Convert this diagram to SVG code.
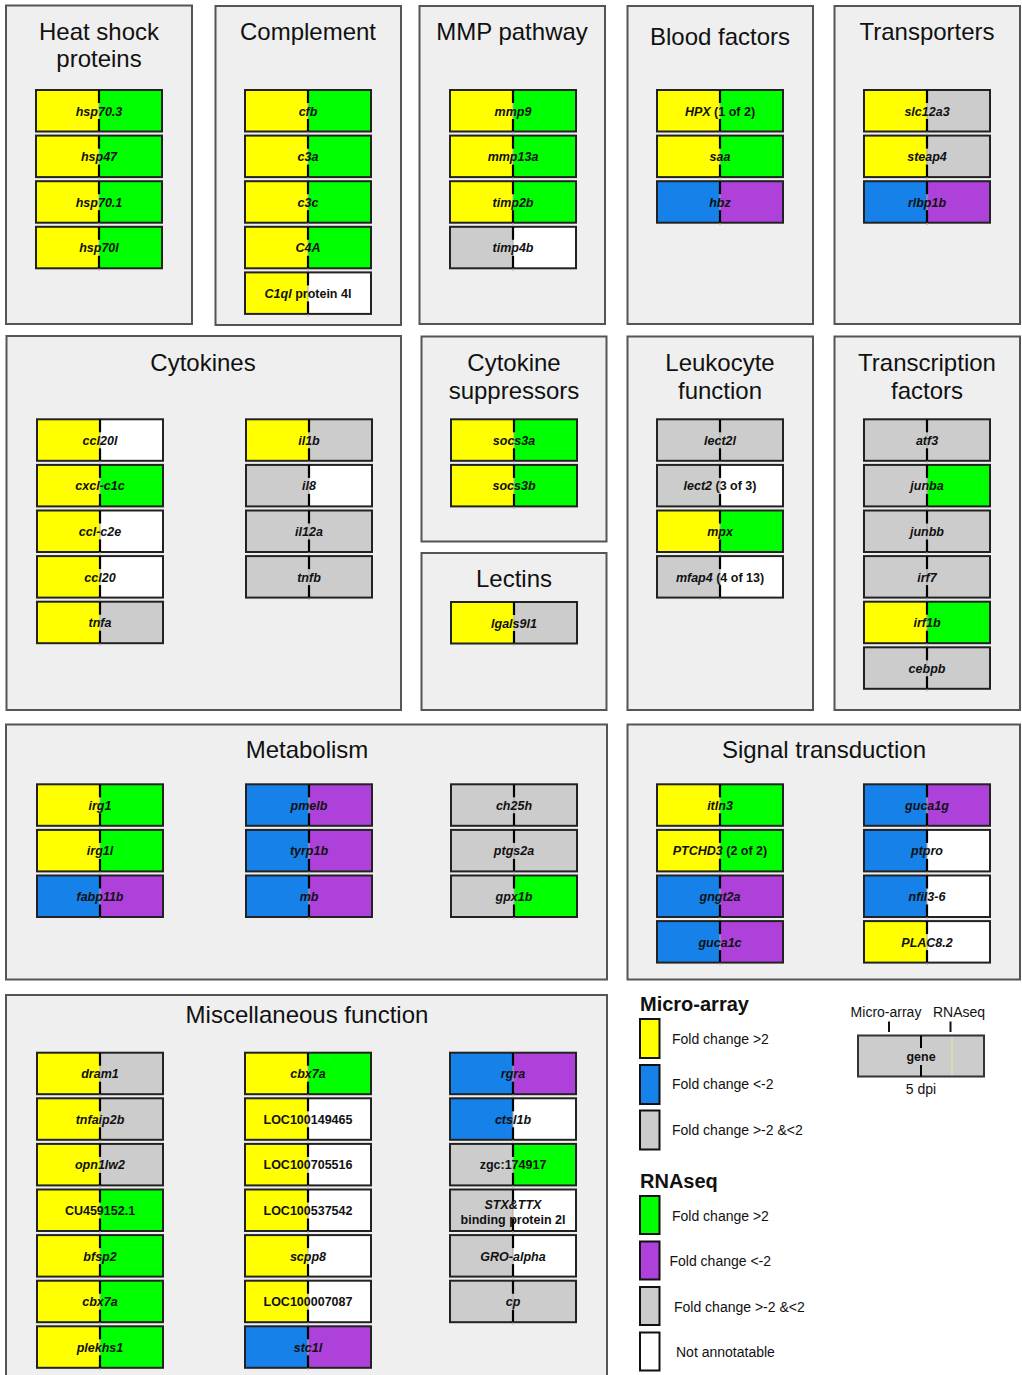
<svg xmlns="http://www.w3.org/2000/svg" width="1022" height="1375" viewBox="0 0 1022 1375">
<style>
.panel{fill:#efefef;stroke:#555;stroke-width:2}
.title{font-family:"Liberation Sans",Arial,sans-serif;font-size:24px;fill:#111;text-anchor:middle}
.gt{font-family:"Liberation Sans",Arial,sans-serif;font-size:12.5px;font-weight:bold;font-style:italic;fill:#111;text-anchor:middle}
.up{font-style:normal}
.lh{font-family:"Liberation Sans",Arial,sans-serif;font-size:20px;font-weight:bold;fill:#111}
.lt{font-family:"Liberation Sans",Arial,sans-serif;font-size:14px;fill:#111}
.sw{stroke:#111;stroke-width:2}
.y{fill:#ffff00}.g{fill:#00ff00}.b{fill:#1581e9}.p{fill:#ae41da}.s{fill:#cccccc}.w{fill:#ffffff}
</style>
<defs>
<rect id="Ly" width="63" height="41.5" class="y"/>
<rect id="Lb" width="63" height="41.5" class="b"/>
<rect id="Ls" width="63" height="41.5" class="s"/>
<rect id="Rg" x="63" width="63" height="41.5" class="g"/>
<rect id="Rp" x="63" width="63" height="41.5" class="p"/>
<rect id="Rs" x="63" width="63" height="41.5" class="s"/>
<rect id="Rw" x="63" width="63" height="41.5" class="w"/>
<g id="fr">
<rect width="126" height="41.5" fill="none" stroke="#222" stroke-width="2"/>
<line x1="63" y1="0" x2="63" y2="44" stroke="#aaa" stroke-width="1"/>
<line x1="63" y1="0" x2="63" y2="13" stroke="#000" stroke-width="2.2"/>
<line x1="63" y1="29" x2="63" y2="41.5" stroke="#000" stroke-width="2.2"/>
</g>
</defs>

<g id="connectors"/>

<!-- Heat shock proteins -->
<g id="panel-heat-shock">
<rect class="panel" x="6" y="5.5" width="186" height="318.5"/>
<text class="title" x="99" y="40">Heat shock</text>
<text class="title" x="99" y="67">proteins</text>
</g>
<g id="hsp70-3" transform="translate(36,90)"><use href="#Ly"/><use href="#Rg"/><use href="#fr"/><text class="gt" x="63" y="25.5">hsp70.3</text></g>
<g id="hsp47" transform="translate(36,135.6)"><use href="#Ly"/><use href="#Rg"/><use href="#fr"/><text class="gt" x="63" y="25.5">hsp47</text></g>
<g id="hsp70-1" transform="translate(36,181.2)"><use href="#Ly"/><use href="#Rg"/><use href="#fr"/><text class="gt" x="63" y="25.5">hsp70.1</text></g>
<g id="hsp70l" transform="translate(36,226.8)"><use href="#Ly"/><use href="#Rg"/><use href="#fr"/><text class="gt" x="63" y="25.5">hsp70l</text></g>

<!-- Complement -->
<g id="panel-complement">
<rect class="panel" x="215.5" y="6" width="185.5" height="319"/>
<text class="title" x="308" y="40">Complement</text>
</g>
<g id="cfb" transform="translate(245,90)"><use href="#Ly"/><use href="#Rg"/><use href="#fr"/><text class="gt" x="63" y="25.5">cfb</text></g>
<g id="c3a" transform="translate(245,135.6)"><use href="#Ly"/><use href="#Rg"/><use href="#fr"/><text class="gt" x="63" y="25.5">c3a</text></g>
<g id="c3c" transform="translate(245,181.2)"><use href="#Ly"/><use href="#Rg"/><use href="#fr"/><text class="gt" x="63" y="25.5">c3c</text></g>
<g id="C4A" transform="translate(245,226.8)"><use href="#Ly"/><use href="#Rg"/><use href="#fr"/><text class="gt" x="63" y="25.5">C4A</text></g>
<g id="C1ql" transform="translate(245,272.4)"><use href="#Ly"/><use href="#Rw"/><use href="#fr"/><text class="gt" x="63" y="25.5">C1ql<tspan class="up"> protein 4l</tspan></text></g>

<!-- MMP pathway -->
<g id="panel-mmp">
<rect class="panel" x="419.5" y="6" width="185.5" height="318"/>
<text class="title" x="512" y="40">MMP pathway</text>
</g>
<g id="mmp9" transform="translate(450,90)"><use href="#Ly"/><use href="#Rg"/><use href="#fr"/><text class="gt" x="63" y="25.5">mmp9</text></g>
<g id="mmp13a" transform="translate(450,135.6)"><use href="#Ly"/><use href="#Rg"/><use href="#fr"/><text class="gt" x="63" y="25.5">mmp13a</text></g>
<g id="timp2b" transform="translate(450,181.2)"><use href="#Ly"/><use href="#Rg"/><use href="#fr"/><text class="gt" x="63" y="25.5">timp2b</text></g>
<g id="timp4b" transform="translate(450,226.8)"><use href="#Ls"/><use href="#Rw"/><use href="#fr"/><text class="gt" x="63" y="25.5">timp4b</text></g>

<!-- Blood factors -->
<g id="panel-blood">
<rect class="panel" x="627.5" y="6" width="185.5" height="318"/>
<text class="title" x="720" y="45">Blood factors</text>
</g>
<g id="HPX" transform="translate(657,90)"><use href="#Ly"/><use href="#Rg"/><use href="#fr"/><text class="gt" x="63" y="25.5">HPX<tspan class="up"> (1 of 2)</tspan></text></g>
<g id="saa" transform="translate(657,135.6)"><use href="#Ly"/><use href="#Rg"/><use href="#fr"/><text class="gt" x="63" y="25.5">saa</text></g>
<g id="hbz" transform="translate(657,181.2)"><use href="#Lb"/><use href="#Rp"/><use href="#fr"/><text class="gt" x="63" y="25.5">hbz</text></g>

<!-- Transporters -->
<g id="panel-transporters">
<rect class="panel" x="834.5" y="6" width="185.5" height="318"/>
<text class="title" x="927" y="40">Transporters</text>
</g>
<g id="slc12a3" transform="translate(864,90)"><use href="#Ly"/><use href="#Rs"/><use href="#fr"/><text class="gt" x="63" y="25.5">slc12a3</text></g>
<g id="steap4" transform="translate(864,135.6)"><use href="#Ly"/><use href="#Rs"/><use href="#fr"/><text class="gt" x="63" y="25.5">steap4</text></g>
<g id="rlbp1b" transform="translate(864,181.2)"><use href="#Lb"/><use href="#Rp"/><use href="#fr"/><text class="gt" x="63" y="25.5">rlbp1b</text></g>

<!-- Cytokines -->
<g id="panel-cytokines">
<rect class="panel" x="6.5" y="336" width="394.5" height="374"/>
<text class="title" x="203" y="371">Cytokines</text>
</g>
<g id="ccl20l" transform="translate(37,419.3)"><use href="#Ly"/><use href="#Rw"/><use href="#fr"/><text class="gt" x="63" y="25.5">ccl20l</text></g>
<g id="cxcl-c1c" transform="translate(37,464.9)"><use href="#Ly"/><use href="#Rg"/><use href="#fr"/><text class="gt" x="63" y="25.5">cxcl-c1c</text></g>
<g id="ccl-c2e" transform="translate(37,510.5)"><use href="#Ly"/><use href="#Rw"/><use href="#fr"/><text class="gt" x="63" y="25.5">ccl-c2e</text></g>
<g id="ccl20" transform="translate(37,556.1)"><use href="#Ly"/><use href="#Rw"/><use href="#fr"/><text class="gt" x="63" y="25.5">ccl20</text></g>
<g id="tnfa" transform="translate(37,601.7)"><use href="#Ly"/><use href="#Rs"/><use href="#fr"/><text class="gt" x="63" y="25.5">tnfa</text></g>
<g id="il1b" transform="translate(246,419.3)"><use href="#Ly"/><use href="#Rs"/><use href="#fr"/><text class="gt" x="63" y="25.5">il1b</text></g>
<g id="il8" transform="translate(246,464.9)"><use href="#Ls"/><use href="#Rw"/><use href="#fr"/><text class="gt" x="63" y="25.5">il8</text></g>
<g id="il12a" transform="translate(246,510.5)"><use href="#Ls"/><use href="#Rs"/><use href="#fr"/><text class="gt" x="63" y="25.5">il12a</text></g>
<g id="tnfb" transform="translate(246,556.1)"><use href="#Ls"/><use href="#Rs"/><use href="#fr"/><text class="gt" x="63" y="25.5">tnfb</text></g>

<!-- Cytokine suppressors -->
<g id="panel-suppressors">
<rect class="panel" x="421.5" y="336.5" width="185" height="205"/>
<text class="title" x="514" y="371">Cytokine</text>
<text class="title" x="514" y="399">suppressors</text>
</g>
<g id="socs3a" transform="translate(451,419.3)"><use href="#Ly"/><use href="#Rg"/><use href="#fr"/><text class="gt" x="63" y="25.5">socs3a</text></g>
<g id="socs3b" transform="translate(451,464.9)"><use href="#Ly"/><use href="#Rg"/><use href="#fr"/><text class="gt" x="63" y="25.5">socs3b</text></g>

<!-- Lectins -->
<g id="panel-lectins">
<rect class="panel" x="421.5" y="553" width="185" height="157"/>
<text class="title" x="514" y="587">Lectins</text>
</g>
<g id="lgals9l1" transform="translate(451,602)"><use href="#Ly"/><use href="#Rs"/><use href="#fr"/><text class="gt" x="63" y="25.5">lgals9l1</text></g>

<!-- Leukocyte function -->
<g id="panel-leukocyte">
<rect class="panel" x="627.5" y="336.5" width="185.5" height="373.5"/>
<text class="title" x="720" y="371">Leukocyte</text>
<text class="title" x="720" y="399">function</text>
</g>
<g id="lect2l" transform="translate(657,419.3)"><use href="#Ls"/><use href="#Rs"/><use href="#fr"/><text class="gt" x="63" y="25.5">lect2l</text></g>
<g id="lect2" transform="translate(657,464.9)"><use href="#Ls"/><use href="#Rw"/><use href="#fr"/><text class="gt" x="63" y="25.5">lect2<tspan class="up"> (3 of 3)</tspan></text></g>
<g id="mpx" transform="translate(657,510.5)"><use href="#Ly"/><use href="#Rg"/><use href="#fr"/><text class="gt" x="63" y="25.5">mpx</text></g>
<g id="mfap4" transform="translate(657,556.1)"><use href="#Ls"/><use href="#Rw"/><use href="#fr"/><text class="gt" x="63" y="25.5">mfap4<tspan class="up"> (4 of 13)</tspan></text></g>

<!-- Transcription factors -->
<g id="panel-tf">
<rect class="panel" x="834.5" y="336.5" width="185.5" height="373.5"/>
<text class="title" x="927" y="371">Transcription</text>
<text class="title" x="927" y="399">factors</text>
</g>
<g id="atf3" transform="translate(864,419.3)"><use href="#Ls"/><use href="#Rs"/><use href="#fr"/><text class="gt" x="63" y="25.5">atf3</text></g>
<g id="junba" transform="translate(864,464.9)"><use href="#Ls"/><use href="#Rg"/><use href="#fr"/><text class="gt" x="63" y="25.5">junba</text></g>
<g id="junbb" transform="translate(864,510.5)"><use href="#Ls"/><use href="#Rs"/><use href="#fr"/><text class="gt" x="63" y="25.5">junbb</text></g>
<g id="irf7" transform="translate(864,556.1)"><use href="#Ls"/><use href="#Rs"/><use href="#fr"/><text class="gt" x="63" y="25.5">irf7</text></g>
<g id="irf1b" transform="translate(864,601.7)"><use href="#Ly"/><use href="#Rg"/><use href="#fr"/><text class="gt" x="63" y="25.5">irf1b</text></g>
<g id="cebpb" transform="translate(864,647.3)"><use href="#Ls"/><use href="#Rs"/><use href="#fr"/><text class="gt" x="63" y="25.5">cebpb</text></g>

<!-- Metabolism -->
<g id="panel-metabolism">
<rect class="panel" x="6" y="724.5" width="601" height="255"/>
<text class="title" x="307" y="758">Metabolism</text>
</g>
<g id="irg1" transform="translate(37,784.3)"><use href="#Ly"/><use href="#Rg"/><use href="#fr"/><text class="gt" x="63" y="25.5">irg1</text></g>
<g id="irg1l" transform="translate(37,829.9)"><use href="#Ly"/><use href="#Rg"/><use href="#fr"/><text class="gt" x="63" y="25.5">irg1l</text></g>
<g id="fabp11b" transform="translate(37,875.5)"><use href="#Lb"/><use href="#Rp"/><use href="#fr"/><text class="gt" x="63" y="25.5">fabp11b</text></g>
<g id="pmelb" transform="translate(246,784.3)"><use href="#Lb"/><use href="#Rp"/><use href="#fr"/><text class="gt" x="63" y="25.5">pmelb</text></g>
<g id="tyrp1b" transform="translate(246,829.9)"><use href="#Lb"/><use href="#Rp"/><use href="#fr"/><text class="gt" x="63" y="25.5">tyrp1b</text></g>
<g id="mb" transform="translate(246,875.5)"><use href="#Lb"/><use href="#Rp"/><use href="#fr"/><text class="gt" x="63" y="25.5">mb</text></g>
<g id="ch25h" transform="translate(451,784.3)"><use href="#Ls"/><use href="#Rs"/><use href="#fr"/><text class="gt" x="63" y="25.5">ch25h</text></g>
<g id="ptgs2a" transform="translate(451,829.9)"><use href="#Ls"/><use href="#Rs"/><use href="#fr"/><text class="gt" x="63" y="25.5">ptgs2a</text></g>
<g id="gpx1b" transform="translate(451,875.5)"><use href="#Ls"/><use href="#Rg"/><use href="#fr"/><text class="gt" x="63" y="25.5">gpx1b</text></g>

<!-- Signal transduction -->
<g id="panel-signal">
<rect class="panel" x="627.5" y="724.5" width="392.5" height="255"/>
<text class="title" x="824" y="758">Signal transduction</text>
</g>
<g id="itln3" transform="translate(657,784.3)"><use href="#Ly"/><use href="#Rg"/><use href="#fr"/><text class="gt" x="63" y="25.5">itln3</text></g>
<g id="PTCHD3" transform="translate(657,829.9)"><use href="#Ly"/><use href="#Rg"/><use href="#fr"/><text class="gt" x="63" y="25.5">PTCHD3<tspan class="up"> (2 of 2)</tspan></text></g>
<g id="gngt2a" transform="translate(657,875.5)"><use href="#Lb"/><use href="#Rp"/><use href="#fr"/><text class="gt" x="63" y="25.5">gngt2a</text></g>
<g id="guca1c" transform="translate(657,921.1)"><use href="#Lb"/><use href="#Rp"/><use href="#fr"/><text class="gt" x="63" y="25.5">guca1c</text></g>
<g id="guca1g" transform="translate(864,784.3)"><use href="#Lb"/><use href="#Rp"/><use href="#fr"/><text class="gt" x="63" y="25.5">guca1g</text></g>
<g id="ptpro" transform="translate(864,829.9)"><use href="#Lb"/><use href="#Rw"/><use href="#fr"/><text class="gt" x="63" y="25.5">ptpro</text></g>
<g id="nfil3-6" transform="translate(864,875.5)"><use href="#Lb"/><use href="#Rw"/><use href="#fr"/><text class="gt" x="63" y="25.5">nfil3-6</text></g>
<g id="PLAC8-2" transform="translate(864,921.1)"><use href="#Ly"/><use href="#Rw"/><use href="#fr"/><text class="gt" x="63" y="25.5">PLAC8.2</text></g>

<!-- Miscellaneous function -->
<g id="panel-misc">
<rect class="panel" x="6" y="995" width="601" height="400"/>
<text class="title" x="307" y="1023">Miscellaneous function</text>
</g>
<g id="dram1" transform="translate(37,1052.7)"><use href="#Ly"/><use href="#Rs"/><use href="#fr"/><text class="gt" x="63" y="25.5">dram1</text></g>
<g id="tnfaip2b" transform="translate(37,1098.3)"><use href="#Ly"/><use href="#Rs"/><use href="#fr"/><text class="gt" x="63" y="25.5">tnfaip2b</text></g>
<g id="opn1lw2" transform="translate(37,1143.9)"><use href="#Ly"/><use href="#Rs"/><use href="#fr"/><text class="gt" x="63" y="25.5">opn1lw2</text></g>
<g id="CU459152-1" transform="translate(37,1189.5)"><use href="#Ly"/><use href="#Rg"/><use href="#fr"/><text class="gt up" x="63" y="25.5">CU459152.1</text></g>
<g id="bfsp2" transform="translate(37,1235.1)"><use href="#Ly"/><use href="#Rg"/><use href="#fr"/><text class="gt" x="63" y="25.5">bfsp2</text></g>
<g id="cbx7a-1" transform="translate(37,1280.7)"><use href="#Ly"/><use href="#Rg"/><use href="#fr"/><text class="gt" x="63" y="25.5">cbx7a</text></g>
<g id="plekhs1" transform="translate(37,1326.3)"><use href="#Ly"/><use href="#Rg"/><use href="#fr"/><text class="gt" x="63" y="25.5">plekhs1</text></g>
<g id="cbx7a-2" transform="translate(245,1052.7)"><use href="#Ly"/><use href="#Rg"/><use href="#fr"/><text class="gt" x="63" y="25.5">cbx7a</text></g>
<g id="LOC100149465" transform="translate(245,1098.3)"><use href="#Ly"/><use href="#Rw"/><use href="#fr"/><text class="gt up" x="63" y="25.5">LOC100149465</text></g>
<g id="LOC100705516" transform="translate(245,1143.9)"><use href="#Ly"/><use href="#Rw"/><use href="#fr"/><text class="gt up" x="63" y="25.5">LOC100705516</text></g>
<g id="LOC100537542" transform="translate(245,1189.5)"><use href="#Ly"/><use href="#Rw"/><use href="#fr"/><text class="gt up" x="63" y="25.5">LOC100537542</text></g>
<g id="scpp8" transform="translate(245,1235.1)"><use href="#Ly"/><use href="#Rw"/><use href="#fr"/><text class="gt" x="63" y="25.5">scpp8</text></g>
<g id="LOC100007087" transform="translate(245,1280.7)"><use href="#Ly"/><use href="#Rw"/><use href="#fr"/><text class="gt up" x="63" y="25.5">LOC100007087</text></g>
<g id="stc1l" transform="translate(245,1326.3)"><use href="#Lb"/><use href="#Rp"/><use href="#fr"/><text class="gt" x="63" y="25.5">stc1l</text></g>
<g id="rgra" transform="translate(450,1052.7)"><use href="#Lb"/><use href="#Rp"/><use href="#fr"/><text class="gt" x="63" y="25.5">rgra</text></g>
<g id="ctsl1b" transform="translate(450,1098.3)"><use href="#Lb"/><use href="#Rw"/><use href="#fr"/><text class="gt" x="63" y="25.5">ctsl1b</text></g>
<g id="zgc174917" transform="translate(450,1143.9)"><use href="#Ls"/><use href="#Rg"/><use href="#fr"/><text class="gt up" x="63" y="25.5">zgc:174917</text></g>
<g id="stx-ttx" transform="translate(450,1189.5)"><use href="#Ls"/><use href="#Rw"/><use href="#fr"/><text class="gt" x="63" y="19">STX&amp;TTX</text><text class="gt up" x="63" y="34">binding protein 2l</text></g>
<g id="GRO-alpha" transform="translate(450,1235.1)"><use href="#Ls"/><use href="#Rw"/><use href="#fr"/><text class="gt" x="63" y="25.5">GRO-alpha</text></g>
<g id="cp" transform="translate(450,1280.7)"><use href="#Ls"/><use href="#Rs"/><use href="#fr"/><text class="gt" x="63" y="25.5">cp</text></g>

<!-- Legend -->
<g id="legend">
<text class="lh" x="640" y="1011">Micro-array</text>
<rect class="sw y" x="640" y="1019" width="19.5" height="39"/>
<rect class="sw b" x="640" y="1065" width="19.5" height="39"/>
<rect class="sw s" x="640" y="1110.5" width="19.5" height="39"/>
<text class="lt" x="672" y="1044">Fold change &gt;2</text>
<text class="lt" x="672" y="1089">Fold change &lt;-2</text>
<text class="lt" x="672" y="1135">Fold change &gt;-2 &amp;&lt;2</text>
<text class="lh" x="640" y="1188">RNAseq</text>
<rect class="sw g" x="640" y="1196" width="19.5" height="38"/>
<rect class="sw p" x="640" y="1241.5" width="19.5" height="38"/>
<rect class="sw s" x="640" y="1287" width="19.5" height="38"/>
<rect class="sw w" x="640" y="1332.5" width="19.5" height="38"/>
<text class="lt" x="672" y="1221">Fold change &gt;2</text>
<text class="lt" x="669.5" y="1266">Fold change &lt;-2</text>
<text class="lt" x="674" y="1312">Fold change &gt;-2 &amp;&lt;2</text>
<text class="lt" x="676" y="1357">Not annotatable</text>
</g>
<g id="legend-gene">
<text class="lt" x="886" y="1017" text-anchor="middle">Micro-array</text>
<text class="lt" x="959" y="1017" text-anchor="middle">RNAseq</text>
<line x1="889" y1="1021.5" x2="889" y2="1032" stroke="#111" stroke-width="2"/>
<line x1="950.5" y1="1021.5" x2="950.5" y2="1032" stroke="#111" stroke-width="2"/>
<rect x="858" y="1035.5" width="126" height="41" fill="#cccccc" stroke="#333" stroke-width="2"/>
<line x1="952" y1="1036.5" x2="952" y2="1075.5" stroke="#e6e69a" stroke-width="1"/>
<line x1="921" y1="1035.5" x2="921" y2="1048" stroke="#000" stroke-width="2"/>
<line x1="921" y1="1065" x2="921" y2="1076.5" stroke="#000" stroke-width="2"/>
<text class="gt up" x="921" y="1061">gene</text>
<text class="lt" x="921" y="1094" text-anchor="middle">5 dpi</text>
</g>
</svg>
